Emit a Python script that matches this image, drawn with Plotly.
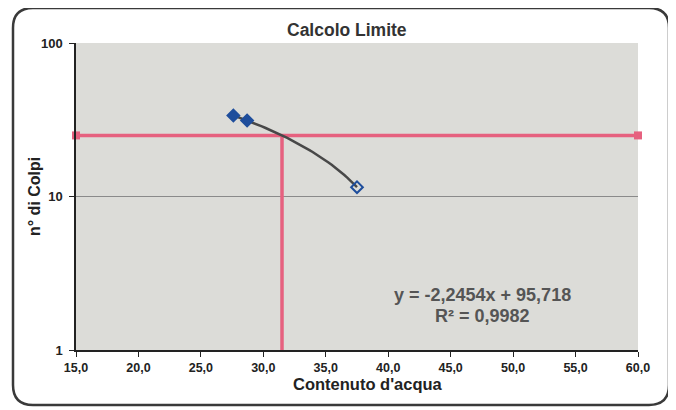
import plotly.graph_objects as go
import numpy as np

# Data
water_content = [27.6, 28.7, 37.5]
blows = [33.7, 31.3, 11.5]
point_symbols = ["diamond", "diamond", "diamond-open"]
slope = -2.2454
intercept = 95.718
eq_text = "y = -2,2454x + 95,718"
r2_text = "R² = 0,9982"
limit_blows = 25
x_min, x_max = 15.0, 60.0
x_ticks = [15, 20, 25, 30, 35, 40, 45, 50, 55, 60]
y_ticks = [1, 10, 100]

x_limit = (limit_blows - intercept) / slope

# Layout geometry (page offset = default body margin of the html page)
OFF = 8
W, H = 676, 410
ML, MR, MT, MB = 68, 46, 35, 68
PW, PH = W - ML - MR, H - MT - MB


def fx(X):
    return (X - OFF - ML) / PW


def fy(Y):
    return (H - MB - (Y - OFF)) / PH


font_family = "Liberation Sans, Arial, sans-serif"
pink = "#e6617f"

fig = go.Figure()

# Horizontal limit line (25 blows)
fig.add_trace(go.Scatter(
    x=[x_min, x_max], y=[limit_blows, limit_blows], mode="lines+markers",
    line=dict(color=pink, width=3.5),
    marker=dict(symbol="square", size=8, color=pink),
    showlegend=False, cliponaxis=False))
# Vertical limit line
fig.add_trace(go.Scatter(
    x=[x_limit, x_limit], y=[limit_blows, 0.96], mode="lines",
    line=dict(color=pink, width=3.5),
    showlegend=False, cliponaxis=False))

# Trendline from equation
xt = np.linspace(min(water_content), max(water_content), 40)
yt = slope * xt + intercept
fig.add_trace(go.Scatter(x=xt, y=yt, mode="lines",
                         line=dict(color="#484848", width=2.5), showlegend=False))

# Data points
fig.add_trace(go.Scatter(
    x=water_content, y=blows, mode="markers",
    marker=dict(symbol=point_symbols, size=9, color="#1f4e9c",
                line=dict(color="#1f4e9c", width=2)),
    showlegend=False))

fig.update_layout(
    width=W, height=H,
    margin=dict(l=ML, r=MR, t=MT, b=MB),
    paper_bgcolor="white",
    plot_bgcolor="#dcdcd8",
    separators=",.",
    font=dict(family=font_family, color="#222222"),
    xaxis=dict(range=[x_min, x_max], tickvals=x_ticks,
               ticktext=["<b>%s</b>" % ("%.1f" % v).replace(".", ",") for v in x_ticks],
               showgrid=False, zeroline=False,
               showline=True, linecolor="#222222", linewidth=1.5,
               ticks="outside", ticklen=5, tickcolor="#222222",
               tickfont=dict(size=12.5, color="#222222", family=font_family)),
    yaxis=dict(type="log", range=[0, 2], tickvals=y_ticks,
               ticktext=["<b>1</b>", "<b>10</b>", "<b>100</b>"],
               showgrid=True, gridcolor="#8a8a8a", gridwidth=1,
               zeroline=False, showline=True, linecolor="#222222", linewidth=1.5,
               ticks="outside", ticklen=5, tickcolor="#222222",
               ticklabelstandoff=4,
               tickfont=dict(size=13, color="#222222", family=font_family)),
)


def label(X, Y, text, size, color, angle=0):
    fig.add_annotation(x=fx(X), y=fy(Y), xref="paper", yref="paper",
                       xanchor="center", yanchor="middle",
                       text=text, showarrow=False, textangle=angle,
                       font=dict(size=size, color=color, family=font_family))


# Title and axis titles
label(347, 30, "<b>Calcolo Limite</b>", 17.5, "#333333")
label(368, 384, "<b>Contenuto d'acqua</b>", 16.5, "#222222")
label(34, 197, "<b>n° di Colpi</b>", 16, "#222222", -90)

# Trendline equation
label(482, 295, "<b>" + eq_text + "</b>", 18, "#555555")
label(482, 316, "<b>" + r2_text + "</b>", 18, "#555555")

# Rounded outer frame
x0, x1, y0, y1, r = 13, 669, 8, 405, 20
path = (f"M {fx(x0+r)},{fy(y0)} L {fx(x1-r)},{fy(y0)} "
        f"Q {fx(x1)},{fy(y0)} {fx(x1)},{fy(y0+r)} L {fx(x1)},{fy(y1-r)} "
        f"Q {fx(x1)},{fy(y1)} {fx(x1-r)},{fy(y1)} L {fx(x0+r)},{fy(y1)} "
        f"Q {fx(x0)},{fy(y1)} {fx(x0)},{fy(y1-r)} L {fx(x0)},{fy(y0+r)} "
        f"Q {fx(x0)},{fy(y0)} {fx(x0+r)},{fy(y0)} Z")
fig.add_shape(type="path", path=path, xref="paper", yref="paper",
              line=dict(color="#3a3a3a", width=2.5), layer="above")

fig.write_html("out.html")
